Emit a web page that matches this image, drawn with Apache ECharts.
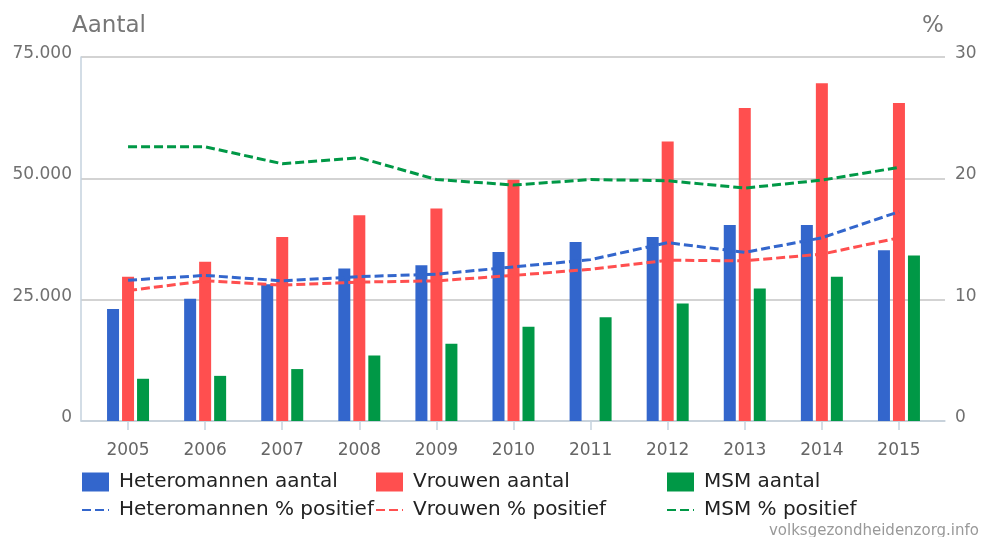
<!DOCTYPE html>
<html>
<head>
<meta charset="utf-8">
<script src="https://cdn.jsdelivr.net/npm/echarts@6/dist/echarts.min.js"></script>
<style>
  html, body { margin: 0; padding: 0; background: #fff; }
  #chart { width: 982px; height: 537px; }
</style>
</head>
<body>
<div id="chart"></div>
<script>
// jaren
var jaren = ['2005', '2006', '2007', '2008', '2009', '2010', '2011', '2012', '2013', '2014', '2015'];
// aantallen (linker as)
var heteroAantal = [23100, 25200, 28200, 31400, 32100, 34800, 36900, 37900, 40400, 40400, 35200];
var vrouwenAantal = [29700, 32800, 37900, 42400, 43800, 49700, null, 57600, 64500, 69600, 65500];
var msmAantal = [8700, 9300, 10700, 13500, 15900, 19400, 21400, 24200, 27300, 29700, 34100];
// % positief (rechter as)
var heteroPct = [11.6, 12.0, 11.55, 11.9, 12.1, 12.7, 13.3, 14.7, 13.9, 15.1, 17.25];
var vrouwenPct = [10.75, 11.55, 11.2, 11.45, 11.55, 12.0, 12.5, 13.25, 13.2, 13.75, 15.1];
var msmPct = [22.6, 22.6, 21.2, 21.7, 19.9, 19.45, 19.9, 19.8, 19.2, 19.85, 20.9];

var blauw = '#3366cc', rood = '#ff4f4f', groen = '#009846';
var font = 'DejaVu Sans';

function punt(v) {
    return String(v).replace(/\B(?=(\d{3})+(?!\d))/g, '.');
}

var chart = echarts.init(document.getElementById('chart'));

var legendBase = {
    orient: 'vertical',
    top: 472,
    padding: 0,
    itemWidth: 27,
    itemHeight: 19,
    itemGap: 8,
    selectedMode: false,
    textStyle: { fontFamily: font, fontSize: 20, color: '#222', lineHeight: 19, padding: [0, 0, 0, 5] }
};

// legenda-items: staaf = blok, lijn = streepjes zonder bolletje
function items(staafNaam, lijnNaam) {
    return [
        { name: staafNaam, icon: 'rect' },
        { name: lijnNaam, itemStyle: { color: 'rgba(0,0,0,0)', borderColor: 'rgba(0,0,0,0)', borderWidth: 0 } }
    ];
}

function lijn(naam, data, kleur) {
    return {
        name: naam,
        type: 'line',
        xAxisIndex: 1,
        yAxisIndex: 3,
        symbol: 'none',
        data: data,
        z: 5,
        itemStyle: { color: kleur },
        lineStyle: { color: kleur, width: 3, type: [9, 4] }
    };
}

function staaf(naam, data, kleur) {
    return {
        name: naam,
        type: 'bar',
        xAxisIndex: 1,
        yAxisIndex: 2,
        barWidth: 12,
        barGap: '25%',
        data: data,
        itemStyle: { color: kleur }
    };
}

var option = {
    animation: false,
    textStyle: { fontFamily: font },
    title: [
        { text: 'Aantal', left: 72, top: 15, padding: 0, textStyle: { fontFamily: font, fontSize: 23, fontWeight: 'normal', color: '#777' } },
        { text: '%', left: 922, top: 15, padding: 0, textStyle: { fontFamily: font, fontSize: 23, fontWeight: 'normal', color: '#777' } }
    ],
    legend: [
        Object.assign({}, legendBase, { left: 81, data: items('Heteromannen aantal', 'Heteromannen % positief') }),
        Object.assign({}, legendBase, { left: 375, data: items('Vrouwen aantal', 'Vrouwen % positief') }),
        Object.assign({}, legendBase, { left: 666, data: items('MSM aantal', 'MSM % positief') })
    ],
    grid: [
        // kader met rasterlijnen
        { left: 81, right: 37, top: 57, bottom: 116 },
        // data
        { left: 89.5, right: 44.5, top: 57, bottom: 116 }
    ],
    xAxis: [
        {
            type: 'category', gridIndex: 0, data: jaren,
            axisLine: { lineStyle: { color: '#c5d2de', width: 1.5 } },
            axisTick: { show: false }, axisLabel: { show: false }
        },
        {
            type: 'category', gridIndex: 1, data: jaren,
            axisLine: { show: false },
            axisTick: { show: true, alignWithLabel: true, length: 9, lineStyle: { color: '#c5d2de', width: 1.5 } },
            axisLabel: { fontFamily: font, fontSize: 17, color: '#666', margin: 21 }
        }
    ],
    yAxis: [
        {
            type: 'value', gridIndex: 0, min: 0, max: 75000, interval: 25000, position: 'left',
            axisLine: { show: true, lineStyle: { color: '#c5d2de', width: 1.5 } },
            axisTick: { show: false },
            splitLine: { lineStyle: { color: '#c4c4c4', width: 1.5 } },
            axisLabel: {
                fontFamily: font, fontSize: 17, color: '#707070', margin: 9,
                verticalAlign: 'bottom', lineHeight: 7,
                formatter: function(v) { return punt(v); }
            }
        },
        {
            type: 'value', gridIndex: 0, min: 0, max: 30, interval: 10, position: 'right',
            axisLine: { show: false }, axisTick: { show: false }, splitLine: { show: false },
            axisLabel: {
                fontFamily: font, fontSize: 17, color: '#707070', margin: 10,
                verticalAlign: 'bottom', lineHeight: 7
            }
        },
        {
            type: 'value', gridIndex: 1, min: 0, max: 75000, position: 'left',
            axisLine: { show: false }, axisTick: { show: false }, splitLine: { show: false }, axisLabel: { show: false }
        },
        {
            type: 'value', gridIndex: 1, min: 0, max: 30, position: 'right',
            axisLine: { show: false }, axisTick: { show: false }, splitLine: { show: false }, axisLabel: { show: false }
        }
    ],
    graphic: [{
        type: 'text', right: 3, top: 524,
        style: { text: 'volksgezondheidenzorg.info', font: '15px "DejaVu Sans"', fill: '#999' }
    }],
    series: [
        staaf('Heteromannen aantal', heteroAantal, blauw),
        staaf('Vrouwen aantal', vrouwenAantal, rood),
        staaf('MSM aantal', msmAantal, groen),
        lijn('Heteromannen % positief', heteroPct, blauw),
        lijn('Vrouwen % positief', vrouwenPct, rood),
        lijn('MSM % positief', msmPct, groen)
    ]
};

chart.setOption(option);
</script>
</body>
</html>
